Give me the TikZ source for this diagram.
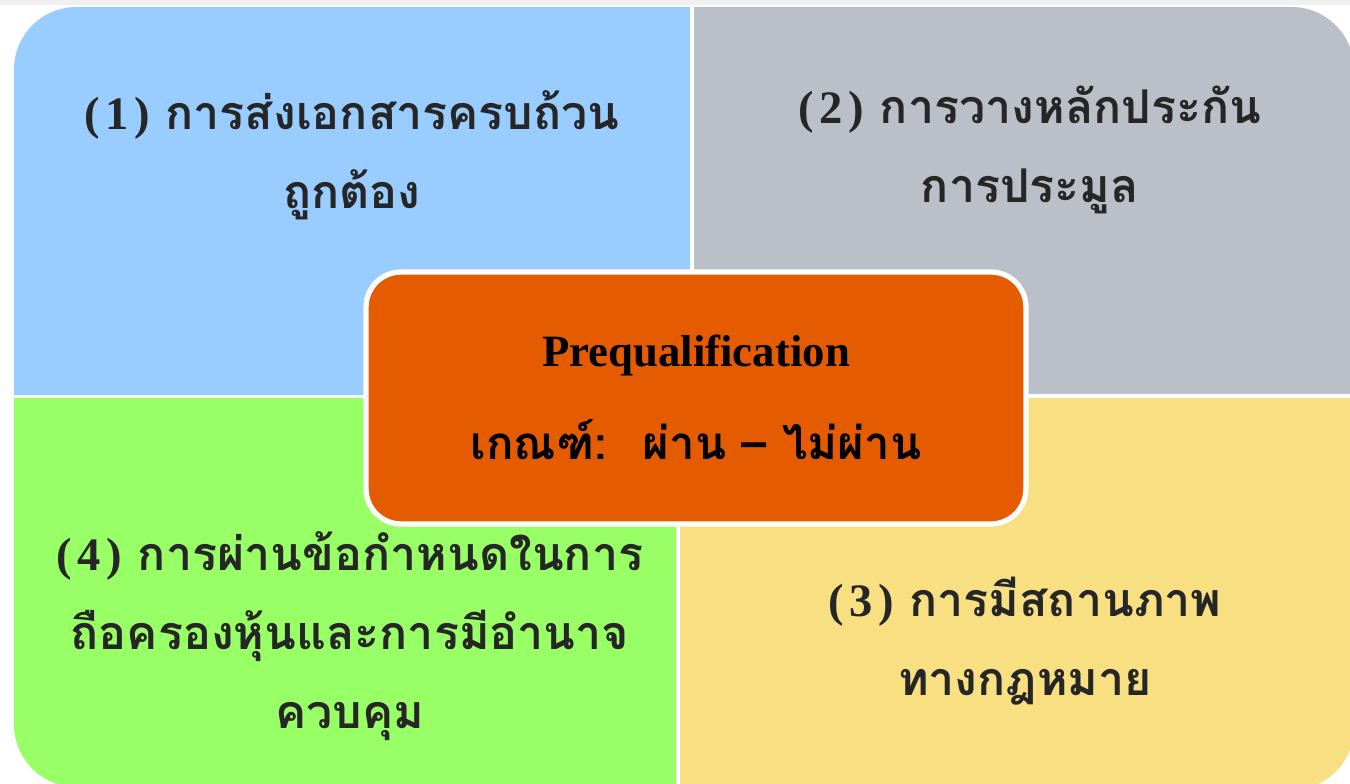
\documentclass[tikz,border=0pt]{standalone}
\usepackage{fontspec}
\setmainfont{Liberation Serif}
\newfontfamily\thaifont[Script=Thai]{Loma}
\definecolor{quadblue}{HTML}{99CCFF}
\definecolor{quadgray}{HTML}{BBBFC8}
\definecolor{quadgreen}{HTML}{99FF66}
\definecolor{quadyellow}{HTML}{F8DF82}
\definecolor{centerorange}{HTML}{E55B00}
\definecolor{quadtext}{HTML}{262626}
% serif number in parentheses
\newcommand{\qnum}[1]{{\rmfamily\bfseries(\kern0.12em#1\kern0.12em)}}
\tikzset{
  quadlabel/.style={align=center, text=quadtext, font=\thaifont\bfseries\fontsize{26.5}{45}\selectfont},
  centerbox/.style={draw=white, line width=3pt, fill=centerorange, rounded corners=0.7cm,
    minimum width=13.2cm, minimum height=5.04cm},
}
\begin{document}
\begin{tikzpicture}[x=0.02cm, y=-0.02cm]
    \useasboundingbox (0, 0) rectangle (1350, 784);
    \clip (0, 0) rectangle (1350, 784);
    % thin top strip
    \fill [black!6] (0, 0) rectangle (1350, 5);
    % top left quadrant
    \fill [quadblue] (14, 395) [rounded corners=1.25cm] -- (14, 7) [sharp corners] -- (690, 7) -- (690, 395) -- cycle;
    % top right quadrant
    \fill [quadgray] (694, 7) [rounded corners=1.25cm] -- (1354, 7) [sharp corners] -- (1354, 394) -- (694, 394) -- cycle;
    % bottom left quadrant
    \fill [quadgreen] (14, 398) [rounded corners=1.25cm] -- (14, 787) [sharp corners] -- (676, 787) -- (676, 398) -- cycle;
    % bottom right quadrant
    \fill [quadyellow] (680, 398) -- (1354, 398) [rounded corners=1.25cm] -- (1354, 790) [sharp corners] -- (680, 790) -- cycle;
    % quadrant texts
    \node [quadlabel] (docs) at (352, 155) {\qnum{1} การส่งเอกสารครบถ้วน\\ถูกต้อง};
    \node [quadlabel] (bond) at (1030, 150) {\qnum{2} การวางหลักประกัน\\การประมูล};
    \node [quadlabel] (legal) at (1025, 641) {\qnum{3} การมีสถานภาพ\\ทางกฎหมาย};
    \node [quadlabel] (share) at (350, 636) {\qnum{4} การผ่านข้อกำหนดในการ\\ถือครองหุ้นและการมีอำนาจ\\ควบคุม};
    % center box
    \node [centerbox] (center) at (696, 398) {};
    \node [font=\rmfamily\bfseries\fontsize{25.5}{30}\selectfont] (prequal) at (696, 355) {Prequalification};
    \node [font=\thaifont\bfseries\fontsize{26}{30}\selectfont] (rule) at (696, 440) {เกณฑ์:~ ผ่าน – ไม่ผ่าน};
\end{tikzpicture}
\end{document}
